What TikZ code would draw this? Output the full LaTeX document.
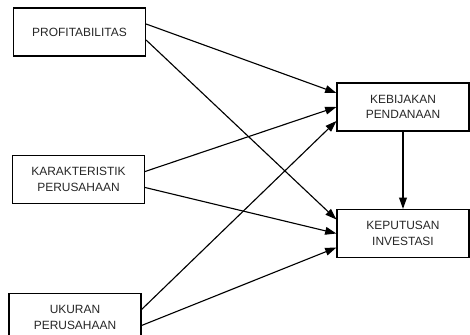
\documentclass[tikz,border=0pt]{standalone}
\usepackage{fontspec}
\setmainfont{Liberation Sans}
\usetikzlibrary{arrows.meta, positioning, calc}

\begin{document}
\begin{tikzpicture}[x=0.025cm, y=-0.025cm,
	kotak/.style={draw, line width=0.8pt, align=center, inner sep=0pt,
		minimum width=3.3cm, minimum height=1.2cm,
		font=\fontsize{8.5}{11.1}\selectfont, text=black!85},
	panah/.style={-{Triangle[length=8pt, width=5.5pt]}, line width=0.8pt}]
	\clip (0,0) rectangle (470,335);
	
	% Variabel bebas
	\node[kotak] (prof) at (79.5,32) {PROFITABILITAS};
	\node[kotak] (kar) at (78.5,179.5) {KARAKTERISTIK\\PERUSAHAAN};
	\node[kotak] (uku) at (75,317.5) {UKURAN\\PERUSAHAAN};
	
	% Variabel terikat
	\node[kotak] (keb) at (403,107) {KEBIJAKAN\\PENDANAAN};
	\node[kotak] (kep) at (403,233.5) {KEPUTUSAN\\INVESTASI};
	
	% Panah
	\foreach \a/\da/\b/\db in {prof/-8/keb/-14, prof/8/kep/-14, kar/-8/keb/0,
		kar/8/kep/0, uku/-8/keb/14, uku/8/kep/14} {
		\draw[panah] ($(\a.east)+(0,\da)$) -- ($(\b.west)+(0,\db)$);
	}
	\draw[panah] (keb) -- (kep);
\end{tikzpicture}
\end{document}
